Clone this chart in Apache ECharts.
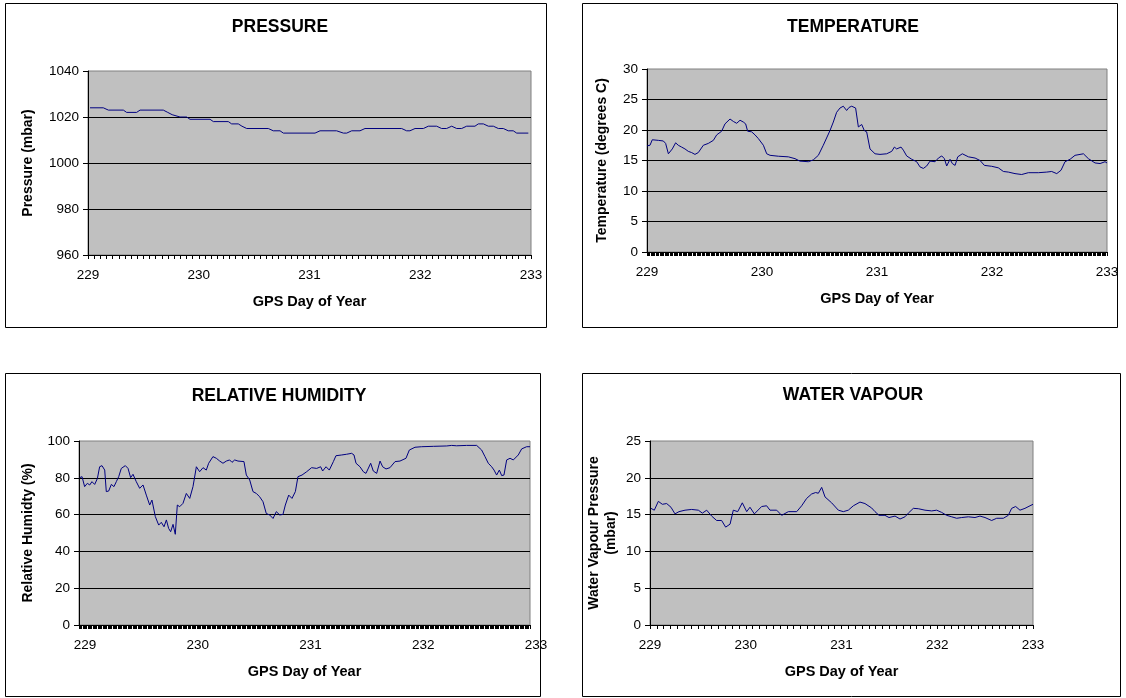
<!DOCTYPE html>
<html>
<head>
<meta charset="utf-8">
<script src="https://cdn.jsdelivr.net/npm/echarts@6/dist/echarts.min.js"></script>
<style>
html,body{margin:0;padding:0;background:#fff;}
#c{width:1126px;height:698px;}
</style>
</head>
<body>
<div id="c"></div>
<script>
// ---------------- DATA ----------------
const dayTicks = [229, 230, 231, 232, 233];

const pressureDays = [229.018,229.138,229.184,229.319,229.349,229.439,229.470,229.680,229.720,229.760,229.831,229.891,229.921,230.102,230.132,230.267,230.297,230.357,230.390,230.433,230.628,230.673,230.734,230.764,231.050,231.095,231.245,231.306,231.336,231.381,231.456,231.501,231.832,231.877,231.907,231.953,232.028,232.073,232.148,232.193,232.238,232.284,232.329,232.374,232.419,232.494,232.524,232.570,232.615,232.660,232.705,232.750,232.795,232.840,232.871,232.976];
const pressureValues = [1024,1024,1023,1023,1022,1022,1023,1023,1022,1021,1020,1020,1019,1019,1018,1018,1017,1017,1016,1015,1015,1014,1014,1013,1013,1014,1014,1013,1013,1014,1014,1015,1015,1014,1014,1015,1015,1016,1016,1015,1015,1016,1015,1015,1016,1016,1017,1017,1016,1016,1015,1015,1014,1014,1013,1013];

const tempDays = [229.000,229.026,229.046,229.099,229.142,229.162,229.186,229.200,229.220,229.249,229.272,229.301,229.330,229.359,229.388,229.417,229.446,229.490,229.533,229.577,229.606,229.649,229.678,229.722,229.751,229.780,229.809,229.838,229.858,229.875,229.910,229.939,229.968,230.012,230.041,230.070,230.142,230.229,230.287,230.330,230.403,230.446,230.490,230.533,230.591,230.620,230.649,230.678,230.707,230.736,230.757,230.780,230.814,230.838,230.867,230.890,230.910,230.939,230.983,231.026,231.041,231.084,231.128,231.151,231.171,231.209,231.229,231.258,231.302,231.345,231.374,231.403,231.432,231.461,231.505,231.534,231.563,231.586,231.606,231.635,231.655,231.679,231.702,231.742,231.795,231.853,231.896,231.934,231.997,232.055,232.099,232.142,232.200,232.258,232.316,232.403,232.476,232.519,232.563,232.600,232.635,232.679,232.722,232.795,232.838,232.896,232.940,232.983,233.000];
const tempValues = [17.4,17.5,18.4,18.3,18.2,17.8,16.1,16.0,16.9,17.9,17.5,17.2,16.9,16.5,16.3,16.0,16.3,17.5,17.8,18.3,19.2,19.8,21.0,21.8,21.4,21.1,21.6,21.3,21.0,19.8,19.7,19.2,18.6,17.5,16.1,15.85,15.7,15.6,15.3,14.9,14.8,15.1,15.85,17.5,19.9,21.3,22.9,23.6,23.9,23.2,23.7,23.9,23.6,20.5,20.9,19.9,19.7,16.9,16.1,16.0,16.0,16.1,16.5,17.2,16.9,17.2,16.7,15.75,15.2,14.8,13.95,13.7,14.1,14.9,14.8,15.4,15.75,15.3,14.1,15.2,14.5,14.2,15.6,16.1,15.6,15.4,15.0,14.2,14.05,13.8,13.2,13.1,12.85,12.7,13.0,13.0,13.1,13.2,12.85,13.4,14.8,15.2,15.85,16.1,15.3,14.6,14.5,14.8,14.6];

const humDays = [229.006,229.027,229.050,229.074,229.095,229.115,229.139,229.163,229.183,229.204,229.228,229.242,229.263,229.287,229.310,229.331,229.352,229.375,229.411,229.435,229.458,229.479,229.508,229.538,229.568,229.597,229.627,229.647,229.677,229.707,229.730,229.754,229.775,229.795,229.813,229.834,229.854,229.872,229.893,229.922,229.952,229.982,230.011,230.041,230.070,230.100,230.129,230.150,230.188,230.218,230.248,230.277,230.307,230.336,230.357,230.381,230.410,230.463,230.484,230.514,230.543,230.573,230.602,230.632,230.661,230.691,230.721,230.750,230.780,230.809,230.830,230.860,230.889,230.919,230.942,230.978,231.019,231.063,231.108,231.143,231.161,231.191,231.220,231.256,231.279,231.330,231.374,231.418,231.439,231.457,231.492,231.522,231.545,231.587,231.610,231.640,231.670,231.693,231.723,231.758,231.803,231.847,231.900,231.930,231.980,232.039,232.143,232.261,232.305,232.349,232.438,232.527,232.571,232.601,232.630,232.660,232.681,232.704,232.728,232.749,232.769,232.793,232.823,232.852,232.896,232.926,232.970,233.000];
const humValues = [80.1,80.6,75.2,77.0,76.1,77.9,76.4,79.6,86.0,86.6,84.2,72.5,72.8,76.4,75.2,77.9,80.6,85.1,86.6,85.1,80.1,81.9,77.9,74.3,76.1,70.6,65.2,67.9,58.9,54.3,55.8,53.4,57.1,52.5,50.7,54.7,49.3,65.2,64.3,66.1,71.5,68.8,75.2,86.0,83.3,85.5,84.2,87.9,91.5,90.6,89.1,87.9,89.1,89.7,88.4,89.7,89.1,88.8,81.5,78.8,72.5,71.5,69.7,67.0,60.6,59.8,57.9,61.6,59.8,60.1,65.2,70.6,68.8,72.5,80.6,81.5,83.3,85.5,85.1,86.0,83.7,86.0,84.2,88.8,92.0,92.4,92.8,93.3,92.4,87.9,86.0,83.3,82.4,87.9,83.7,82.4,89.1,86.0,84.8,85.5,88.8,89.1,90.6,95.1,96.6,96.9,97.1,97.3,97.6,97.4,97.6,97.6,95.1,91.5,87.9,86.0,84.2,81.5,84.2,81.2,81.5,89.7,90.6,89.7,92.4,95.7,96.9,96.9];

const vapDays = [229.010,229.045,229.087,229.129,229.174,229.219,229.261,229.303,229.366,229.435,229.505,229.547,229.592,229.644,229.696,229.748,229.790,229.836,229.870,229.916,229.964,230.010,230.044,230.090,230.166,230.218,230.253,230.323,230.375,230.445,230.532,230.584,230.636,230.688,230.730,230.758,230.793,230.828,230.897,230.967,231.019,231.071,231.124,231.193,231.245,231.315,231.350,231.392,231.454,231.496,231.559,231.611,231.663,231.698,231.750,231.802,231.872,231.942,231.994,232.046,232.098,232.151,232.203,232.255,232.325,232.394,232.446,232.499,232.568,232.621,232.690,232.742,232.777,232.819,232.864,232.916,232.969,233.000];
const vapValues = [15.85,15.6,16.8,16.4,16.5,16.0,15.1,15.4,15.6,15.7,15.6,15.2,15.6,14.8,14.2,14.2,13.3,13.7,15.6,15.4,16.6,15.4,16.0,15.1,16.1,16.2,15.6,15.6,14.9,15.4,15.4,16.2,17.2,17.8,18.0,17.9,18.7,17.4,16.6,15.6,15.4,15.6,16.2,16.7,16.5,15.9,15.4,14.9,14.9,14.6,14.8,14.4,14.7,15.2,15.85,15.8,15.6,15.5,15.6,15.3,14.9,14.7,14.5,14.6,14.7,14.6,14.8,14.6,14.2,14.5,14.5,14.9,15.85,16.1,15.6,15.85,16.2,16.4];

const titles = ['PRESSURE', 'TEMPERATURE', 'RELATIVE HUMIDITY', 'WATER VAPOUR'];
const yNames = ['Pressure (mbar)', 'Temperature (degrees C)', 'Relative Humidty (%)', 'Water Vapour Pressure\n(mbar)'];
const xName = 'GPS Day of Year';

// ---------------- LAYOUT ----------------
const FONT = '"Liberation Sans", Arial, sans-serif';
const grids = [
  {left: 88, top: 71, width: 443, height: 184},
  {left: 647, top: 69, width: 460, height: 183},
  {left: 79, top: 441, width: 451, height: 184},
  {left: 650, top: 441, width: 383, height: 184}
];
const yRanges = [
  {min: 960, max: 1040, interval: 20},
  {min: 0, max: 30, interval: 5},
  {min: 0, max: 100, interval: 20},
  {min: 0, max: 25, interval: 5}
];
const yNameGaps = [51, 36, 42, 30];
const minorSplits = [18, 90, 90, 14];
const titlePos = [[275, 13], [848, 13], [274, 382], [848, 381]];
const boxes = [
  {x: 5.5, y: 3.5, width: 541, height: 324},
  {x: 582.5, y: 3.5, width: 535, height: 324},
  {x: 5.5, y: 373.5, width: 535, height: 323},
  {x: 582.5, y: 373.5, width: 538, height: 323}
];

const series = [
  [pressureDays, pressureValues],
  [tempDays, tempValues],
  [humDays, humValues],
  [vapDays, vapValues]
];

const option = {
  backgroundColor: '#ffffff',
  animation: false,
  graphic: boxes.map(b => ({
    type: 'rect', shape: b, silent: true, z: 100,
    style: {fill: 'none', stroke: '#000', lineWidth: 1}
  })),
  title: titles.map((t, i) => ({
    text: t, left: titlePos[i][0], top: titlePos[i][1], textAlign: 'center',
    textStyle: {fontFamily: FONT, fontWeight: 'bold', fontSize: 17.5, color: '#000'}
  })),
  grid: grids.map(g => Object.assign({
    show: true, backgroundColor: '#c0c0c0', borderColor: '#808080', borderWidth: 1
  }, g)),
  xAxis: grids.map((g, i) => ({
    type: 'value', gridIndex: i, min: 229, max: 233, interval: 1,
    name: xName, nameLocation: 'middle', nameGap: 39,
    nameTextStyle: {fontFamily: FONT, fontWeight: 'bold', fontSize: 14.5, color: '#000'},
    axisLine: {show: true, onZero: false, lineStyle: {color: '#000', width: 1}},
    axisTick: {show: true, inside: false, length: 4, lineStyle: {color: '#000'}},
    minorTick: {show: true, splitNumber: minorSplits[i], length: 4, lineStyle: {color: '#000'}},
    splitLine: {show: false},
    axisLabel: Object.assign({
      fontFamily: FONT, fontSize: 13.5, color: '#000', margin: 13,
      showMinLabel: true, showMaxLabel: true,
      formatter: v => String(v)
    }, i === 2 ? {padding: [0, 0, 0, 12]} : {})
  })),
  yAxis: grids.map((g, i) => ({
    type: 'value', gridIndex: i,
    min: yRanges[i].min, max: yRanges[i].max, interval: yRanges[i].interval,
    name: yNames[i], nameLocation: 'middle', nameGap: yNameGaps[i], nameRotate: 90,
    nameTextStyle: {fontFamily: FONT, fontWeight: 'bold', fontSize: 14, color: '#000', lineHeight: 17, align: 'center'},
    axisLine: {show: true, lineStyle: {color: '#000', width: 1}},
    axisTick: {show: true, inside: false, length: 5, lineStyle: {color: '#000'}},
    splitLine: {show: true, showMinLine: false, showMaxLine: false, lineStyle: {color: '#000', width: 1}},
    axisLabel: {fontFamily: FONT, fontSize: 13.5, color: '#000', margin: 9, formatter: v => String(v)}
  })),
  series: series.map((s, i) => ({
    type: 'line', xAxisIndex: i, yAxisIndex: i,
    showSymbol: false, symbol: 'none', smooth: false,
    lineStyle: {color: '#000080', width: 1},
    data: s[0].map((d, k) => [d, s[1][k]])
  }))
};

const chart = echarts.init(document.getElementById('c'), null, {renderer: 'canvas'});
chart.setOption(option);
</script>
</body>
</html>
